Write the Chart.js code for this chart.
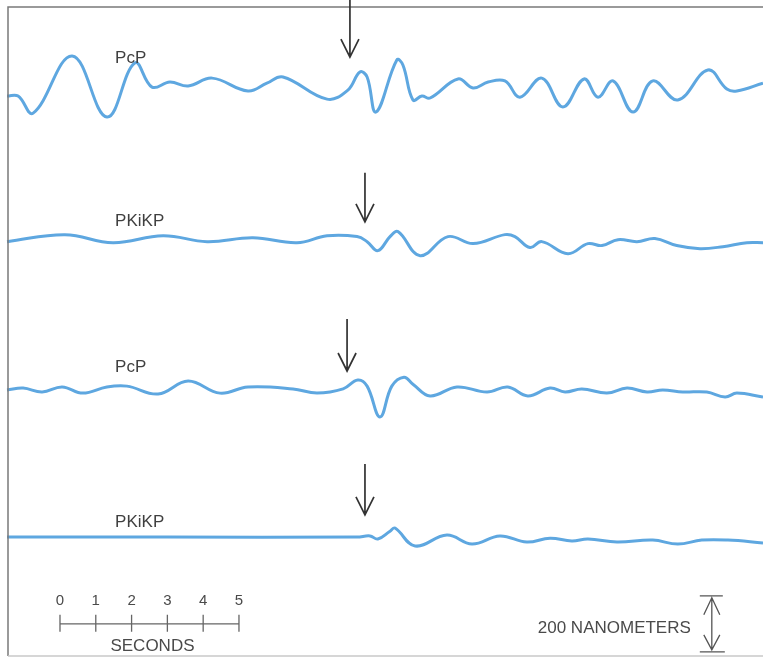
<!DOCTYPE html>
<html>
<head>
<meta charset="utf-8">
<script src="https://cdn.jsdelivr.net/npm/chart.js@4"></script>
<style>
  html, body { margin: 0; padding: 0; background: #fff; }
  #wrap { width: 763px; height: 658px; position: relative; }
</style>
</head>
<body>
<div id="wrap"><canvas id="seismo"></canvas></div>
<script>
// Seismogram traces: time in seconds, ground displacement in nanometers
const t1 = [-1.48, -1.17, -0.75, 0.34, 1.31, 2.09, 2.57, 3.07, 3.58, 4.25, 5.25, 5.78, 6.23, 7.46, 8.04, 8.38, 8.58, 8.83, 9.41, 9.58, 9.86, 10.11, 10.34, 11.12, 11.54, 11.96, 12.43, 12.85, 13.46, 14.05, 14.64, 15.03, 15.45, 16.01, 16.56, 17.26, 18.10, 18.63, 18.91, 19.64];
const a1 = [0, 0, -61, 143, -75, 118, 32, 50, 36, 64, 18, 46, 68, -11, 21, 86, 68, -57, 129, 111, -14, 0, -7, 61, 29, 50, 54, -4, 64, -39, 61, -4, 54, -57, 54, -14, 93, 25, 18, 46];

const t2 = [-1.48, 0.14, 1.48, 2.88, 4.11, 5.39, 6.62, 7.46, 8.30, 8.58, 8.88, 9.22, 9.44, 10.06, 10.84, 11.54, 12.43, 12.71, 13.13, 13.46, 14.19, 14.75, 15.14, 15.59, 16.12, 16.62, 17.23, 17.88, 18.52, 19.19, 19.64];
const a2 = [0, 25, -4, 21, 0, 14, -4, 21, 18, 0, -32, 18, 36, -50, 18, -7, 25, 18, -21, 0, -43, -7, -14, 7, 0, 11, -14, -25, -18, -4, -4];

const t3 = [-1.48, -1.03, -0.50, 0.06, 0.64, 1.31, 1.87, 2.74, 3.58, 4.47, 5.25, 6.51, 7.18, 7.91, 8.32, 8.58, 8.94, 9.27, 9.61, 9.86, 10.34, 11.09, 11.93, 12.51, 13.07, 13.69, 14.11, 14.58, 15.28, 15.84, 16.40, 16.84, 17.40, 18.07, 18.58, 18.91, 19.64];
const a3 = [0, 7, -7, 11, -11, 11, 14, -14, 32, -11, 11, 4, -11, 4, 36, 14, -96, 14, 46, 21, -21, 11, -7, 11, -21, 7, -7, 4, -11, 7, -7, 0, -7, -7, -25, -11, -25];

const t4 = [-1.48, 3.0, 8.30, 8.66, 8.88, 9.22, 9.36, 9.92, 10.81, 11.51, 12.29, 13.04, 13.69, 14.30, 14.75, 15.56, 16.56, 17.26, 17.93, 18.66, 19.64];
const a4 = [0, 0, 0, 4, -7, 21, 32, -32, 7, -25, 4, -18, -4, -14, -7, -18, -11, -25, -11, -11, -21];

const phases = ["PcP", "PKiKP", "PcP", "PKiKP"];
const arrivals = [8.10, 8.52, 8.02, 8.52];       // arrow positions (s)
const secondTicks = [0, 1, 2, 3, 4, 5];
const scaleNm = 200;

// layout: vertical offset of each trace (nm)
const offsets = [2000, 1480, 950, 425];
const labelLift = [118, 57, 64, 36];
const arrowTip = [139, 71, 68, 79];
const arrowLen = [204, 175, 186, 182];

const traceColor = "#5ea7e0";
const ink = "#3f3f3f";

function toPoints(ts, as, off) {
  return ts.map((t, i) => ({ x: t, y: as[i] + off }));
}

function arrowDown(ctx, x, yTop, yTip) {
  ctx.beginPath();
  ctx.moveTo(x, yTop);
  ctx.lineTo(x, yTip);
  ctx.moveTo(x - 9, yTip - 18);
  ctx.lineTo(x, yTip);
  ctx.lineTo(x + 9, yTip - 18);
  ctx.stroke();
}

// Frame, arrows, labels and scale bars
const decor = {
  id: "decor",
  afterDatasetsDraw(chart) {
    const ctx = chart.ctx;
    const X = v => chart.scales.x.getPixelForValue(v);
    const Y = v => chart.scales.y.getPixelForValue(v);
    ctx.save();

    // frame
    ctx.strokeStyle = "#7a7a7a";
    ctx.lineWidth = 1.5;
    ctx.beginPath();
    ctx.moveTo(763, 7);
    ctx.lineTo(8, 7);
    ctx.lineTo(8, 656);
    ctx.stroke();
    ctx.strokeStyle = "#c8c8c8";
    ctx.beginPath();
    ctx.moveTo(8, 656);
    ctx.lineTo(763, 656);
    ctx.stroke();

    // arrival arrows
    ctx.strokeStyle = "#333";
    ctx.lineWidth = 1.7;
    arrivals.forEach((t, i) => {
      const tip = offsets[i] + arrowTip[i];
      arrowDown(ctx, X(t), Y(tip + arrowLen[i]), Y(tip));
    });

    // phase labels
    ctx.fillStyle = ink;
    ctx.font = "17px 'Liberation Sans', Arial, sans-serif";
    ctx.textBaseline = "alphabetic";
    phases.forEach((p, i) => {
      ctx.fillText(p, X(1.54), Y(offsets[i] + labelLift[i]));
    });

    // seconds scale bar
    const barY = Y(115);
    ctx.strokeStyle = "#666";
    ctx.lineWidth = 1.3;
    ctx.beginPath();
    ctx.moveTo(X(secondTicks[0]), barY);
    ctx.lineTo(X(secondTicks[secondTicks.length - 1]), barY);
    secondTicks.forEach(s => {
      ctx.moveTo(X(s), barY - 9);
      ctx.lineTo(X(s), barY + 8);
    });
    ctx.stroke();
    ctx.fillStyle = "#4a4a4a";
    ctx.textAlign = "center";
    ctx.font = "15px 'Liberation Sans', Arial, sans-serif";
    secondTicks.forEach(s => ctx.fillText(String(s), X(s), barY - 19));
    ctx.font = "17px 'Liberation Sans', Arial, sans-serif";
    ctx.fillText("SECONDS", X(2.5) + 3, barY + 27);

    // nanometer scale bar
    const nx = X(18.21);
    const yb = Y(15), yt = Y(15 + scaleNm);
    ctx.strokeStyle = "#555";
    ctx.lineWidth = 1.3;
    ctx.beginPath();
    ctx.moveTo(nx - 12, yt); ctx.lineTo(nx + 11, yt);
    ctx.moveTo(nx - 12, yb); ctx.lineTo(nx + 13, yb);
    ctx.moveTo(nx, yt + 2); ctx.lineTo(nx, yb - 2);
    ctx.moveTo(nx - 8, yt + 19); ctx.lineTo(nx, yt + 2); ctx.lineTo(nx + 8, yt + 19);
    ctx.moveTo(nx - 8, yb - 17); ctx.lineTo(nx, yb - 2); ctx.lineTo(nx + 8, yb - 17);
    ctx.stroke();
    ctx.textAlign = "right";
    ctx.fillText(scaleNm + " NANOMETERS", nx - 21, (yt + yb) / 2 + 9);

    ctx.restore();
  }
};

const traces = [[t1, a1], [t2, a2], [t3, a3], [t4, a4]];

new Chart(document.getElementById("seismo").getContext("2d"), {
  type: "line",
  data: {
    datasets: traces.map((tr, i) => ({
      label: phases[i],
      data: toPoints(tr[0], tr[1], offsets[i]),
      borderColor: traceColor,
      borderWidth: 3,
      pointRadius: 0,
      tension: 0.4,
      fill: false,
    })),
  },
  options: {
    responsive: true,
    maintainAspectRatio: false,
    animation: false,
    layout: { padding: 0 },
    scales: {
      x: { type: "linear", min: -1.676, max: 19.64, display: false },
      y: { type: "linear", min: -7, max: 2343, display: false },
    },
    plugins: {
      legend: { display: false },
      tooltip: { enabled: false },
    },
  },
  plugins: [decor],
});
</script>
</body>
</html>
